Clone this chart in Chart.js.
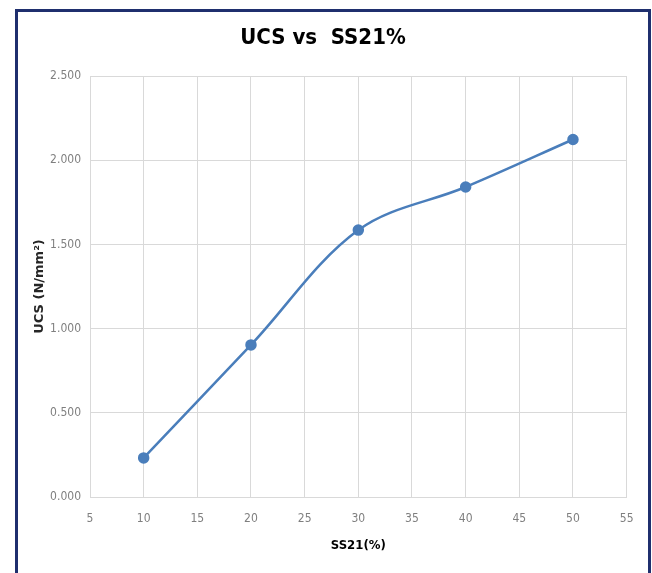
<!DOCTYPE html>
<html>
<head>
<meta charset="utf-8">
<script src="https://cdn.jsdelivr.net/npm/chart.js@4"></script>
<style>
  html, body { margin: 0; padding: 0; background: #fff; overflow: hidden; }
  #frame {
    position: absolute; left: 15px; top: 9px;
    width: 630px; height: 600px;
    border: 3px solid #1f2f6e;
    background: #fff;
  }
  #wrap { position: absolute; left: 0; top: 0; width: 630px; height: 561px; }
</style>
</head>
<body>
<div id="frame"><div id="wrap"><canvas id="c"></canvas></div></div>
<script>
// SS21 dosage (%) and UCS (N/mm²)
const ss21 = [10, 20, 30, 40, 50];
const ucs = [0.232, 0.903, 1.585, 1.841, 2.123];

const titleText = "UCS vs  SS21%";
const xTitle = "SS21(%)";
const yTitle = "UCS (N/mm²)";

const blue = "#4a7ebb";
const gridCol = "#d9d9d9";
const narrow = "'DejaVu Sans Condensed', 'Liberation Sans Narrow', sans-serif";
const tickFont = { family: narrow, size: 12 };

new Chart(document.getElementById("c"), {
  type: "line",
  data: {
    datasets: [{
      data: ss21.map((x, i) => ({ x: x, y: ucs[i] })),
      borderColor: blue,
      backgroundColor: blue,
      borderWidth: 2.5,
      pointRadius: 4.5,
      pointHoverRadius: 4.5,
      tension: 0.35,
      fill: false
    }]
  },
  options: {
    responsive: true,
    maintainAspectRatio: false,
    animation: false,
    layout: { padding: { left: 0, right: 20, top: 0, bottom: 14.6 } },
    plugins: {
      legend: { display: false },
      tooltip: { enabled: false },
      title: {
        display: true,
        text: titleText,
        color: "#000",
        font: { family: narrow, size: 22, weight: "bold" },
        padding: { top: 12.8, bottom: 24.8 }
      }
    },
    scales: {
      x: {
        type: "linear",
        min: 5, max: 55,
        ticks: { stepSize: 5, color: "#7f7f7f", font: tickFont, padding: 14.5 },
        grid: { color: gridCol, lineWidth: 1, drawTicks: false },
        border: { display: true, color: gridCol },
        title: {
          display: true, text: xTitle, color: "#000",
          font: { family: narrow, size: 13, weight: "bold" },
          padding: { top: 8, bottom: 4.6 }
        },
        afterFit: (s) => { s.height = 61.4; }
      },
      y: {
        min: 0, max: 2.5,
        ticks: {
          stepSize: 0.5, color: "#7f7f7f", font: tickFont, padding: 9,
          callback: (v) => v.toFixed(3)
        },
        grid: { color: gridCol, lineWidth: 1, drawTicks: false },
        border: { display: true, color: gridCol },
        title: {
          display: true, text: yTitle, color: "#262626",
          font: { family: "'DejaVu Sans', sans-serif", size: 13, weight: "bold" },
          padding: { top: 14.2, bottom: 0 }
        },
        afterFit: (s) => { s.width = 72; }
      }
    }
  }
});
</script>
</body>
</html>
